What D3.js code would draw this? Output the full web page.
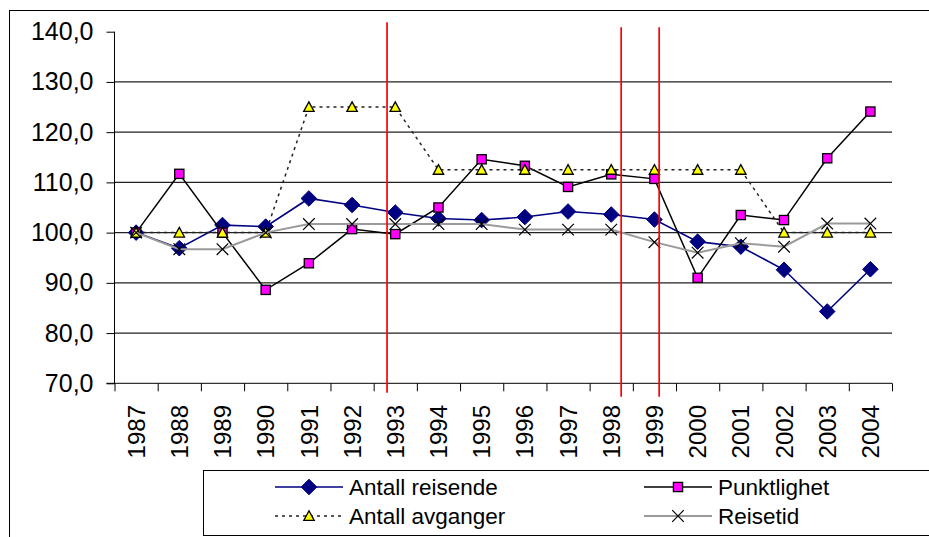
<!DOCTYPE html>
<html>
<head>
<meta charset="utf-8">
<script src="https://cdn.jsdelivr.net/npm/d3@7"></script>
<style>
  body { margin: 0; background: #fff; }
  svg { display: block; }
</style>
</head>
<body>
<svg class="graf" width="929" height="537"></svg>
<script>

// data
let years = [1987, 1988, 1989, 1990, 1991, 1992, 1993, 1994, 1995, 1996, 1997, 1998, 1999, 2000, 2001, 2002, 2003, 2004];
let antallReisende = [100, 96.9, 101.5, 101.2, 106.8, 105.5, 104.0, 102.8, 102.5, 103.1, 104.2, 103.6, 102.6, 98.2, 97.2, 92.6, 84.3, 92.7];
let punktlighet = [100, 111.7, 100, 88.6, 93.9, 100.7, 99.7, 105.0, 114.6, 113.3, 109.1, 111.6, 110.7, 91.0, 103.5, 102.5, 114.8, 124.1];
let antallAvganger = [100, 100, 100, 100, 125, 125, 125, 112.5, 112.5, 112.5, 112.5, 112.5, 112.5, 112.5, 112.5, 100, 100, 100];
let reisetid = [100, 96.7, 96.7, 100, 101.7, 101.7, 101.7, 101.7, 101.7, 100.6, 100.6, 100.6, 98.1, 96.0, 97.9, 97.2, 101.8, 101.8];
let yTicks = [70, 80, 90, 100, 110, 120, 130, 140];

// red marker lines (year position, top value, bottom value)
let redYear = [1992.81, 1998.23, 1999.11];
let redTop = [141.9, 140.9, 140.9];
let redBottom = [68.1, 67.3, 67.3];

let serieNames = ["Antall reisende", "Punktlighet", "Antall avganger", "Reisetid"];

let font = "'Liberation Sans', Arial, sans-serif";

let svg = d3.select(".graf");

// scales
let x = d3.scaleLinear()
    .domain([1986.5, 2004.5])
    .range([114.5, 892]);

let y = d3.scaleLinear()
    .domain([70, 140])
    .range([383.3, 31.7]);

// outer frame
svg.append("rect")
  .attr("x", 9.5)
  .attr("y", 10.5)
  .attr("width", 940)
  .attr("height", 560)
  .style("fill", "none")
  .style("stroke", "#000")
  .style("stroke-width", 1);

// grid
svg.append("g")
  .selectAll("line")
  .data(yTicks.filter(d => d > 70 && d < 140))
  .enter()
  .append("line")
  .attr("x1", x.range()[0])
  .attr("x2", x.range()[1])
  .attr("y1", d => y(d))
  .attr("y2", d => y(d))
  .style("stroke", "#222")
  .style("stroke-width", 1.2);

// y axis
let yAxis = svg.append("g")
  .attr("transform", `translate(${x.range()[0]},0)`)
  .call(d3.axisLeft(y)
    .tickValues(yTicks)
    .tickSize(8)
    .tickPadding(13)
    .tickFormat(d => d3.format(".1f")(d).replace(".", ",")));

yAxis.select(".domain")
  .attr("d", `M0,${y(140)}V${y(70)}`)
  .style("stroke", "#000");
yAxis.selectAll(".tick line").style("stroke", "#000");
yAxis.selectAll("text")
  .style("font-family", font)
  .style("font-size", "25px")
  .style("fill", "#000");

// x axis with ticks between the years
let xAxis = svg.append("g")
  .attr("transform", `translate(0,${y(70)})`)
  .call(d3.axisBottom(x)
    .tickValues(d3.range(1986.5, 2005, 1))
    .tickSize(8)
    .tickFormat(""));

xAxis.select(".domain")
  .attr("d", `M${x.range()[0] - 8},0H${x.range()[1]}`)
  .style("stroke", "#000");
xAxis.selectAll(".tick line").style("stroke", "#000");

svg.append("g")
  .selectAll("text")
  .data(years)
  .enter()
  .append("text")
  .attr("transform", d => `translate(${x(d)},405) rotate(-90)`)
  .attr("text-anchor", "end")
  .attr("dy", "0.36em")
  .style("font-family", font)
  .style("font-size", "24px")
  .style("fill", "#000")
  .text(d => d);

// series
let line = d3.line()
  .x((d, i) => x(years[i]))
  .y(d => y(d));

function diamond(g, s) {
  g.append("path")
    .attr("d", `M0,${-s}L${s},0L0,${s}L${-s},0Z`)
    .style("fill", "#000080")
    .style("stroke", "#000080")
    .style("stroke-width", 1);
}
function square(g, s) {
  g.append("rect")
    .attr("x", -s).attr("y", -s)
    .attr("width", 2 * s).attr("height", 2 * s)
    .style("fill", "#ff00ff")
    .style("stroke", "#000")
    .style("stroke-width", 1.3);
}
function triangle(g, s) {
  g.append("path")
    .attr("d", `M0,${-s}L${s},${s * 0.85}L${-s},${s * 0.85}Z`)
    .style("fill", "#ffff00")
    .style("stroke", "#000")
    .style("stroke-width", 1.3);
}
function cross(g, s) {
  g.append("path")
    .attr("d", `M${-s},${-s}L${s},${s}M${-s},${s}L${s},${-s}`)
    .style("fill", "none")
    .style("stroke", "#000")
    .style("stroke-width", 1.2);
}

let series = [
  {values: antallReisende, stroke: "#000080", width: 1.6, dash: null, marker: diamond, size: 7.8},
  {values: punktlighet, stroke: "#000", width: 1.5, dash: null, marker: square, size: 4.6},
  {values: antallAvganger, stroke: "#222", width: 1.5, dash: "3,4", marker: triangle, size: 5.2},
  {values: reisetid, stroke: "#9a9a9a", width: 2, dash: null, marker: cross, size: 5.8}
];

series.forEach(function(s) {
  let g = svg.append("g");
  g.append("path")
    .datum(s.values)
    .attr("d", line)
    .style("fill", "none")
    .style("stroke", s.stroke)
    .style("stroke-width", s.width)
    .style("stroke-dasharray", s.dash);

  g.selectAll("g.pt")
    .data(s.values)
    .enter()
    .append("g")
    .attr("class", "pt")
    .attr("transform", (d, i) => `translate(${x(years[i])},${y(d)})`)
    .each(function() { s.marker(d3.select(this), s.size); });
});

// red lines
svg.append("g")
  .selectAll("line")
  .data(redYear)
  .enter()
  .append("line")
  .attr("x1", d => x(d))
  .attr("x2", d => x(d))
  .attr("y1", (d, i) => y(redTop[i]))
  .attr("y2", (d, i) => y(redBottom[i]))
  .style("stroke", "#ff0000")
  .style("stroke-width", 1.7);

// legend
svg.append("rect")
  .attr("x", 203.5)
  .attr("y", 470.5)
  .attr("width", 800)
  .attr("height", 65)
  .style("fill", "#fff")
  .style("stroke", "#000")
  .style("stroke-width", 1);

let legX = [275, 644];
let legY = [487, 516];

let legend = svg.selectAll("g.legend_entree")
  .data(series)
  .enter()
  .append("g")
  .attr("class", "legend_entree")
  .attr("transform", (d, i) => `translate(${legX[i % 2]},${legY[Math.floor(i / 2)]})`);

legend.append("line")
  .attr("x1", 0)
  .attr("x2", 68)
  .style("stroke", d => d.stroke)
  .style("stroke-width", d => d.width)
  .style("stroke-dasharray", d => d.dash);

legend.append("g")
  .attr("transform", "translate(34,0)")
  .each(function(d) { d.marker(d3.select(this), d.size); });

legend.append("text")
  .attr("x", 74)
  .attr("dy", "0.36em")
  .style("font-family", font)
  .style("font-size", "22.5px")
  .style("fill", "#000")
  .text((d, i) => serieNames[i]);

</script>
</body>
</html>
